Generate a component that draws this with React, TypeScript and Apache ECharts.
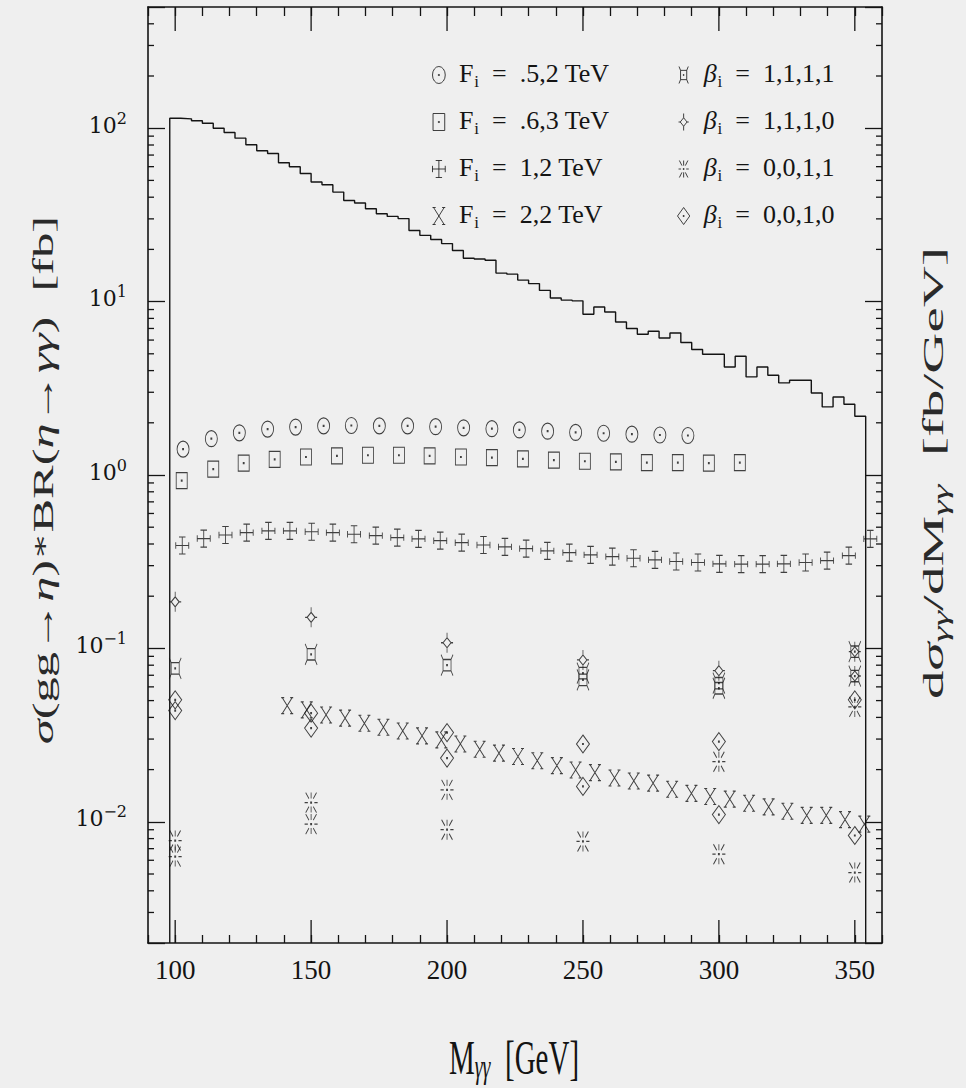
import React, { useEffect, useRef } from 'react';
import * as echarts from 'echarts';

// ---------- axes ----------
const X_MIN = 90;
const X_MAX = 360;
const Y_MIN = 0.002;
const Y_MAX = 500;
const xMajorTicks = [100, 150, 200, 250, 300, 350];
const yMinorTicks = [
  0.003, 0.004, 0.005, 0.006, 0.007, 0.008, 0.009,
  0.02, 0.03, 0.04, 0.05, 0.06, 0.07, 0.08, 0.09,
  0.2, 0.3, 0.4, 0.5, 0.6, 0.7, 0.8, 0.9,
  2, 3, 4, 5, 6, 7, 8, 9,
  20, 30, 40, 50, 60, 70, 80, 90,
  200, 300, 400,
];

// ---------- histogram dσ/dM (fb/GeV), 4 GeV bins from 98 GeV ----------
const histStart = 98;
const histBinWidth = 4;
const histValues = [
  114.2, 113.2, 110.3, 106.9, 100, 94.5, 87.6, 80.2, 74.1, 71.5,
  63.2, 59.9, 54.8, 48.9, 47.2, 42.8, 38.3, 37.0, 34.3, 32.1,
  31.0, 30.1, 25.7, 24.1, 22.8, 21.6, 19.7, 17.8, 17.6, 17.3,
  14.6, 14.4, 13.3, 12.7, 11.6, 10.5, 10.2, 10.1, 8.45, 9.31,
  8.71, 7.63, 6.99, 6.48, 6.74, 6.17, 6.59, 5.81, 5.29, 4.97,
  4.97, 4.20, 4.84, 3.68, 4.20, 3.76, 3.40, 3.52, 3.52, 2.97,
  2.47, 2.82, 2.56, 2.18,
];

// ---------- F_i series ----------
const f052X = [102.9, 113.3, 123.6, 134.0, 144.3, 154.6, 164.8, 175.1, 185.5, 195.8, 206.1, 216.5, 226.6, 237.0, 247.3, 257.6, 268.0, 278.3, 288.6];
const f052Y = [1.41, 1.62, 1.75, 1.84, 1.89, 1.92, 1.93, 1.92, 1.92, 1.90, 1.87, 1.85, 1.82, 1.79, 1.76, 1.74, 1.72, 1.70, 1.69];

const f063X = [102.4, 114.0, 125.2, 136.6, 148.1, 159.5, 170.9, 182.3, 193.6, 205.1, 216.5, 227.9, 239.3, 250.7, 262.1, 273.5, 284.9, 296.3, 307.7];
const f063Y = [0.927, 1.08, 1.17, 1.23, 1.27, 1.29, 1.30, 1.30, 1.29, 1.27, 1.26, 1.24, 1.22, 1.20, 1.19, 1.18, 1.18, 1.17, 1.18];

const f12X = [102.6, 110.5, 118.5, 126.3, 134.3, 142.2, 150.2, 158.0, 165.8, 173.8, 181.7, 189.5, 197.5, 205.4, 213.4, 221.3, 229.1, 236.9, 245.0, 252.8, 260.8, 268.6, 276.5, 284.3, 292.3, 300.2, 308.2, 316.1, 323.9, 331.9, 339.8, 347.8, 355.7];
const f12Y = [0.392, 0.430, 0.451, 0.465, 0.476, 0.476, 0.471, 0.465, 0.455, 0.447, 0.435, 0.428, 0.418, 0.407, 0.395, 0.385, 0.376, 0.365, 0.357, 0.346, 0.338, 0.331, 0.324, 0.317, 0.313, 0.307, 0.306, 0.306, 0.307, 0.313, 0.321, 0.343, 0.428];

const f22X = [141.2, 148.4, 155.5, 162.5, 169.6, 176.6, 183.7, 190.8, 197.9, 204.9, 212.0, 219.1, 226.1, 233.2, 240.4, 247.3, 254.4, 261.6, 268.7, 275.8, 282.8, 289.9, 296.8, 304.0, 311.1, 318.3, 325.2, 332.3, 339.5, 346.4, 353.5];
const f22Y = [0.0468, 0.0442, 0.0413, 0.0396, 0.0370, 0.0351, 0.0334, 0.0313, 0.0297, 0.0281, 0.0262, 0.0249, 0.0238, 0.0225, 0.0211, 0.0199, 0.0192, 0.0179, 0.0172, 0.0167, 0.0154, 0.0146, 0.0140, 0.0135, 0.0128, 0.0122, 0.0115, 0.0109, 0.0109, 0.0103, 0.0097];

// ---------- β_i series ----------
const b1111X = [100, 150, 200, 250, 250, 300, 300, 350, 350];
const b1111Y = [0.0767, 0.0925, 0.080, 0.072, 0.0658, 0.063, 0.0589, 0.0957, 0.0693];
const b1110X = [100, 150, 200, 250, 300, 350, 350];
const b1110Y = [0.1855, 0.151, 0.1078, 0.0858, 0.0744, 0.0957, 0.0693];
const b0011X = [100, 100, 150, 150, 200, 200, 250, 300, 300, 350, 350];
const b0011Y = [0.0078, 0.0063, 0.0129, 0.0097, 0.0153, 0.0090, 0.0077, 0.0222, 0.0065, 0.046, 0.0051];
const b0010X = [100, 100, 150, 150, 200, 200, 250, 250, 300, 300, 350, 350];
const b0010Y = [0.0505, 0.0438, 0.0423, 0.0347, 0.0327, 0.0233, 0.0281, 0.0160, 0.0290, 0.0110, 0.0505, 0.00834];

// ---------- marker shapes ----------
const CIRCLE = 'path://M6,0 A6,8 0 1,1 6,16 A6,8 0 1,1 6,0 Z M5.5,7.5 L6.5,7.5 L6.5,8.5 L5.5,8.5 Z';
const SQUARE = 'path://M0,0 L11,0 L11,16 L0,16 Z M5,7.5 L6,7.5 L6,8.5 L5,8.5 Z';
const PLUS = 'path://M6,0 L6,16 M3,0 L9,0 M3,16 L9,16 M0,8 L12,8 M0,5 L0,11 M12,5 L12,11';
const XX = 'path://M1,0 L11,16 M11,0 L1,16 M0,0 L3,0 M9,0 L12,0 M0,16 L3,16 M9,16 L12,16';
const HOUR = 'path://M2,5 L10,5 L10,17 L2,17 Z M2,5 L0,0 M10,5 L12,0 M2,17 L0,22 M10,17 L12,22 M5.5,10.5 L6.5,10.5 L6.5,11.5 L5.5,11.5 Z';
const STAR = 'path://M6,5 L10,10 L6,15 L2,10 Z M6,0 L6,5 M6,15 L6,20 M0,10 L2,10 M10,10 L12,10';
const ASTER = 'path://M6,0 L6,6 M1,0 L4,6 M11,0 L8,6 M6,14 L6,20 M1,20 L4,14 M11,20 L8,14 M0,10 L3,10 M9,10 L12,10 M5.5,9.5 L6.5,9.5 L6.5,10.5 L5.5,10.5 Z';
const DIAM = 'path://M6.5,0 L13,9 L6.5,18 L0,9 Z M6,8.5 L7,8.5 L7,9.5 L6,9.5 Z';

const INK = '#141414';
const TITLE_INK = '#2a2a2a';
const SERIF = 'Liberation Serif';

const seriesDefs = [
  { name: 'F_i = .5,2 TeV', xs: f052X, ys: f052Y, symbol: CIRCLE, size: [12, 16] },
  { name: 'F_i = .6,3 TeV', xs: f063X, ys: f063Y, symbol: SQUARE, size: [11, 16] },
  { name: 'F_i = 1,2 TeV', xs: f12X, ys: f12Y, symbol: PLUS, size: [13, 17] },
  { name: 'F_i = 2,2 TeV', xs: f22X, ys: f22Y, symbol: XX, size: [12, 16] },
  { name: 'β_i = 1,1,1,1', xs: b1111X, ys: b1111Y, symbol: HOUR, size: [12, 21] },
  { name: 'β_i = 1,1,1,0', xs: b1110X, ys: b1110Y, symbol: STAR, size: [12, 20] },
  { name: 'β_i = 0,0,1,1', xs: b0011X, ys: b0011Y, symbol: ASTER, size: [13, 20] },
  { name: 'β_i = 0,0,1,0', xs: b0010X, ys: b0010Y, symbol: DIAM, size: [13, 18] },
];

const legendLabel = (name: string) => {
  const [lhs, rhs] = name.split(' = ');
  const sym = lhs.charAt(0) === 'β' ? '{g|β}' : '{t|F}';
  return `${sym}{s|i}{t|\u2002=\u2002${rhs}}`;
};

const legendRich = {
  t: { fontFamily: SERIF, fontSize: 26, lineHeight: 30, verticalAlign: 'top', color: INK },
  g: { fontFamily: SERIF, fontSize: 26, fontStyle: 'italic', lineHeight: 30, verticalAlign: 'top', color: INK },
  s: { fontFamily: SERIF, fontSize: 17, lineHeight: 17, padding: [15, 0, 0, 1], verticalAlign: 'bottom', color: INK },
};

const makeLegend = (names: string[], left: number) => ({
  orient: 'vertical',
  left,
  top: 58,
  padding: 0,
  itemWidth: 30,
  itemHeight: 17,
  itemGap: 15,
  selectedMode: false,
  symbolKeepAspect: true,
  itemStyle: { color: 'transparent', borderColor: INK, borderWidth: 1 },
  data: names.map((n) => ({ name: n, icon: seriesDefs.find((s) => s.name === n)!.symbol })),
  formatter: legendLabel,
  textStyle: { fontFamily: SERIF, fontSize: 26, color: INK, rich: legendRich },
});

const titleRich = {
  r: { fontFamily: SERIF, fontSize: 30, lineHeight: 34, verticalAlign: 'top', fill: TITLE_INK },
  i: { fontFamily: SERIF, fontSize: 30, fontStyle: 'italic', lineHeight: 34, verticalAlign: 'top', fill: TITLE_INK },
  a: { fontFamily: 'DejaVu Serif', fontSize: 24, lineHeight: 34, verticalAlign: 'top', fill: TITLE_INK },
  sub: { fontFamily: SERIF, fontSize: 21, fontStyle: 'italic', lineHeight: 20, padding: [18, 0, 0, 0], verticalAlign: 'bottom', fill: TITLE_INK },
};

export default function App() {
  const ref = useRef<HTMLDivElement>(null);

  useEffect(() => {
    if (!ref.current) return;
    const chart = echarts.init(ref.current, undefined, { renderer: 'svg' });

    const frameLine = { show: true, lineStyle: { color: INK, width: 1.6 } };

    const histData: number[][] = [[histStart, Y_MIN]];
    histValues.forEach((v, i) => histData.push([histStart + i * histBinWidth, v]));
    const histEnd = histStart + histValues.length * histBinWidth;
    histData.push([histEnd, histValues[histValues.length - 1]]);
    histData.push([histEnd, Y_MIN]);

    const option: any = {
      animation: false,
      backgroundColor: '#efefef',
      grid: { left: 148, right: 84, top: 7, bottom: 145, containLabel: false },
      xAxis: [
        {
          type: 'value', min: X_MIN, max: X_MAX, interval: 10, position: 'bottom',
          axisLine: frameLine,
          axisTick: { show: true, inside: true, length: 8, lineStyle: { color: INK, width: 1.3 } },
          axisLabel: {
            formatter: (v: number) => (xMajorTicks.includes(v) ? String(v) : ''),
            fontFamily: SERIF, fontSize: 27, lineHeight: 27, color: INK, margin: 13,
          },
          splitLine: { show: false },
        },
        {
          type: 'value', min: X_MIN, max: X_MAX, interval: 10, position: 'top',
          axisLine: frameLine,
          axisTick: { show: true, inside: true, length: 9, lineStyle: { color: INK, width: 1.3 } },
          axisLabel: { show: false },
          splitLine: { show: false },
        },
      ],
      yAxis: [
        {
          type: 'log', logBase: 10, min: Y_MIN, max: Y_MAX, position: 'left',
          axisLine: frameLine,
          axisTick: { show: true, inside: true, length: 17, lineStyle: { color: INK, width: 1.3 } },
          axisLabel: {
            margin: 21,
            padding: [0, 0, 6, 0],
            formatter: (v: number) => {
              const e = Math.log10(v);
              const r = Math.round(e);
              if (Math.abs(e - r) > 1e-6) return '';
              const exp = r < 0 ? '\u2212' + Math.abs(r) : String(r);
              return `{b|10}{s|${exp}}`;
            },
            rich: {
              b: { fontFamily: 'DejaVu Serif', fontSize: 22, lineHeight: 30, verticalAlign: 'middle', color: INK },
              s: { fontFamily: 'DejaVu Serif', fontSize: 16, lineHeight: 11, verticalAlign: 'top', color: INK },
            },
          },
          splitLine: { show: false },
        },
        {
          type: 'log', logBase: 10, min: Y_MIN, max: Y_MAX, position: 'right',
          axisLine: frameLine,
          axisTick: { show: true, inside: true, length: 17, lineStyle: { color: INK, width: 1.3 } },
          axisLabel: { show: false },
          splitLine: { show: false },
        },
      ],
      legend: [
        makeLegend(seriesDefs.slice(0, 4).map((s) => s.name), 432),
        makeLegend(seriesDefs.slice(4).map((s) => s.name), 677),
      ],
      series: [
        {
          name: 'dσ/dM',
          type: 'line',
          step: 'end',
          data: histData,
          symbol: 'none',
          lineStyle: { color: INK, width: 1.4 },
          silent: true,
          z: 2,
        },
        ...seriesDefs.map((s) => ({
          name: s.name,
          type: 'scatter',
          data: s.xs.map((x, i) => [x, s.ys[i]]),
          symbol: s.symbol,
          symbolSize: s.size,
          itemStyle: { color: 'transparent', borderColor: INK, borderWidth: 1 },
          silent: true,
          z: 3,
        })),
        {
          name: 'yMinorTicks',
          type: 'custom',
          silent: true,
          z: 4,
          clip: false,
          data: yMinorTicks.map((v) => [X_MIN, v]),
          renderItem: (_p: any, api: any) => {
            const v = api.value(1);
            const a = api.coord([X_MIN, v]);
            const b = api.coord([X_MAX, v]);
            const st = { stroke: INK, lineWidth: 1.3 };
            return {
              type: 'group',
              children: [
                { type: 'line', shape: { x1: a[0], y1: a[1], x2: a[0] + 6, y2: a[1] }, style: st },
                { type: 'line', shape: { x1: b[0], y1: b[1], x2: b[0] - 6, y2: b[1] }, style: st },
              ],
            };
          },
        },
        {
          name: 'xMajorTicks',
          type: 'custom',
          silent: true,
          z: 4,
          clip: false,
          data: xMajorTicks.map((v) => [v, Y_MIN]),
          renderItem: (_p: any, api: any) => {
            const v = api.value(0);
            const a = api.coord([v, Y_MIN]);
            const b = api.coord([v, Y_MAX]);
            const st = { stroke: INK, lineWidth: 1.3 };
            return {
              type: 'group',
              children: [
                { type: 'line', shape: { x1: a[0], y1: a[1], x2: a[0], y2: a[1] - 23 }, style: st },
                { type: 'line', shape: { x1: b[0], y1: b[1], x2: b[0], y2: b[1] + 24 }, style: st },
              ],
            };
          },
        },
      ],
      graphic: [
        {
          type: 'text', x: 45, y: 480, rotation: Math.PI / 2, scaleX: 1.68, scaleY: 1, silent: true,
          style: {
            text: '{i|σ}{r|(gg→}{i|η}{r|)}{a|∗}{r|BR(}{i|η}{r|→}{i|γγ}{r|)  [fb]}',
            rich: titleRich, align: 'center', verticalAlign: 'middle', fill: TITLE_INK,
          },
        },
        {
          type: 'text', x: 935, y: 473, rotation: Math.PI / 2, scaleX: 1.9, scaleY: 1, silent: true,
          style: {
            text: '{r|d}{i|σ}{sub|γγ}{r|/dM}{sub|γγ}{r|  [fb/GeV]}',
            rich: titleRich, align: 'center', verticalAlign: 'middle', fill: TITLE_INK,
          },
        },
        {
          type: 'text', x: 514, y: 1058, scaleX: 1, scaleY: 1.7, silent: true,
          style: {
            text: '{r|M}{sub|γγ}{r|  [GeV]}',
            rich: {
              r: { fontFamily: SERIF, fontSize: 29, lineHeight: 30, verticalAlign: 'top', fill: INK },
              sub: { fontFamily: SERIF, fontSize: 20, fontStyle: 'italic', lineHeight: 16, padding: [16, 0, 0, 0], verticalAlign: 'bottom', fill: INK },
            },
            align: 'center', verticalAlign: 'middle', fill: INK,
          },
        },
      ],
    };

    chart.setOption(option);
    return () => chart.dispose();
  }, []);

  return (
    <div
      ref={ref}
      style={{ position: 'absolute', left: 0, top: 0, width: 966, height: 1088 }}
    />
  );
}
